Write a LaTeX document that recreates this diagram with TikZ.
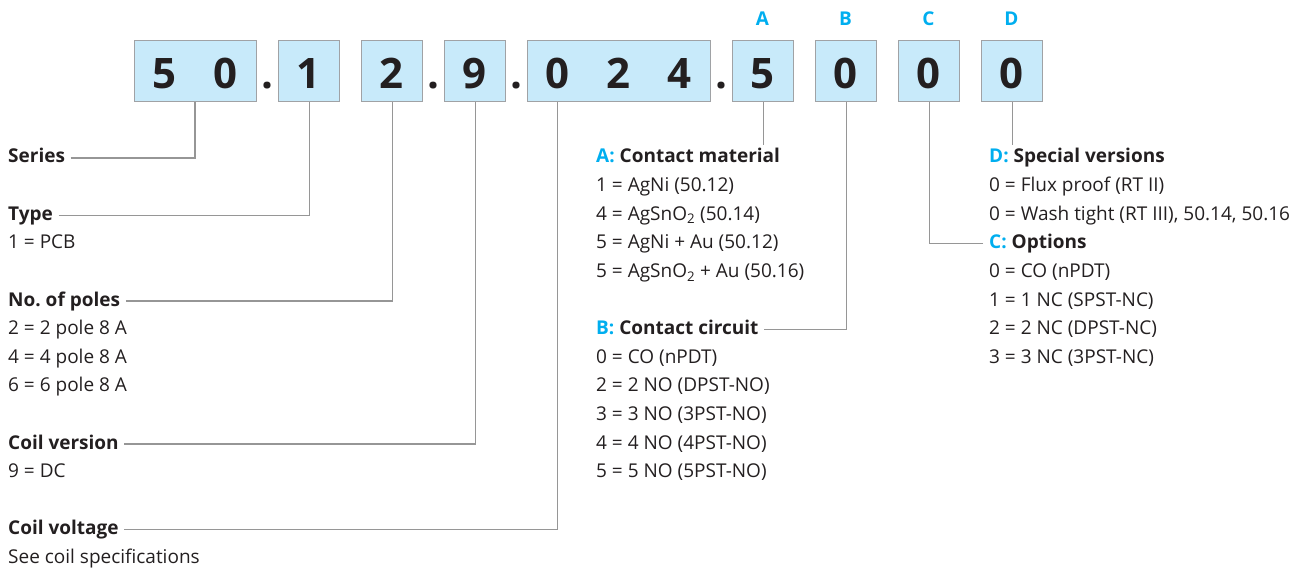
\documentclass[tikz,border=0pt]{standalone}
\usepackage{fontspec}
\setmainfont{Open Sans}
\usetikzlibrary{calc}
\definecolor{cellfill}{RGB}{200,234,250}
\definecolor{cellline}{RGB}{160,162,165}
\definecolor{leadline}{RGB}{150,150,150}
\definecolor{ink}{RGB}{35,31,32}
\definecolor{cyanlbl}{RGB}{0,174,239}
\newcommand\bodysize{\fontsize{19}{24}\selectfont}
\begin{document}
\frenchspacing
\begin{tikzpicture}[x=1pt,y=-1pt,
  cellbox/.style={draw=cellline, line width=1.3pt, fill=cellfill, minimum height=61pt, inner sep=0, anchor=north west},
  digit/.style={font=\fontsize{42}{42}\selectfont\bfseries, text=ink, anchor=base, inner sep=0},
  codelbl/.style={font=\bodysize\bfseries, text=cyanlbl, anchor=base, inner sep=0},
  heading/.style={font=\bodysize\bfseries, text=ink, anchor=base west, inner sep=0, text height=14pt, text depth=4pt},
  item/.style={font=\bodysize, text=ink, anchor=base west, inner sep=0, text height=14pt, text depth=4pt},
  lead/.style={draw=leadline, line width=1.1pt}
]
\useasboundingbox (0,0) rectangle (1302,572);
% boxes
\node[cellbox, minimum width=122pt] (b50) at (134,40) {};
\node[cellbox, minimum width=61pt] (b1) at (278,40) {};
\node[cellbox, minimum width=61pt] (b2) at (361,40) {};
\node[cellbox, minimum width=61pt] (b9) at (444,40) {};
\node[cellbox, minimum width=183pt] (b024) at (527,40) {};
\node[cellbox, minimum width=61pt] (b5) at (732,40) {};
\node[cellbox, minimum width=61pt] (bB) at (815,40) {};
\node[cellbox, minimum width=61pt] (bC) at (898,40) {};
\node[cellbox, minimum width=61pt] (bD) at (981,40) {};
% digits
\node[digit] (d5) at (164.5,88.5) {5};
\node[digit] (d0) at (225.5,88.5) {0};
\node[digit] (dot1) at (267,88.5) {.};
\node[digit] (d1) at (308.5,88.5) {1};
\node[digit] (d2) at (391.5,88.5) {2};
\node[digit] (dot2) at (433,88.5) {.};
\node[digit] (d9) at (474.5,88.5) {9};
\node[digit] (dot3) at (516,88.5) {.};
\node[digit] (dv0) at (557.5,88.5) {0};
\node[digit] (dv2) at (618.5,88.5) {2};
\node[digit] (dv4) at (679.5,88.5) {4};
\node[digit] (dot4) at (721,88.5) {.};
\node[digit] (dA) at (762.5,88.5) {5};
\node[digit] (dB) at (845.5,88.5) {0};
\node[digit] (dC) at (928.5,88.5) {0};
\node[digit] (dD) at (1011.5,88.5) {0};
% letters
\node[codelbl] (lA) at (762.5,25.5) {A};
\node[codelbl] (lB) at (845.5,25.5) {B};
\node[codelbl] (lC) at (928.5,25.5) {C};
\node[codelbl] (lD) at (1011.5,25.5) {D};
% left column
\node[heading] (series) at (8,163) {Series};
\node[heading] (type) at (8,220.2) {Type};
\node[item] (t1) at (8,248.8) {1 = PCB};
\node[heading] (poles) at (8,306) {No.\ of poles};
\node[item] (p2) at (8,334.6) {2 = 2 pole 8 A};
\node[item] (p4) at (8,363.2) {4 = 4 pole 8 A};
\node[item] (p6) at (8,391.8) {6 = 6 pole 8 A};
\node[heading] (cver) at (8,449) {Coil version};
\node[item] (cv9) at (8,477.6) {9 = DC};
\node[heading] (cvolt) at (8,534.8) {Coil voltage};
\node[item] (cvs) at (8,563.4) {See coil specifications};
% middle column
\node[heading] (hA) at (596,163) {\textcolor{cyanlbl}{A:} Contact material};
\node[item] (a1) at (596,191.6) {1 = AgNi (50.12)};
\node[item] (a2) at (596,220.2) {4 = AgSnO\textsubscript{2} (50.14)};
\node[item] (a3) at (596,248.8) {5 = AgNi + Au (50.12)};
\node[item] (a4) at (596,277.4) {5 = AgSnO\textsubscript{2} + Au (50.16)};
\node[heading] (hB) at (596,334.6) {\textcolor{cyanlbl}{B:} Contact circuit};
\node[item] (bb0) at (596,363.2) {0 = CO (nPDT)};
\node[item] (bb2) at (596,391.8) {2 = 2 NO (DPST-NO)};
\node[item] (bb3) at (596,420.4) {3 = 3 NO (3PST-NO)};
\node[item] (bb4) at (596,449) {4 = 4 NO (4PST-NO)};
\node[item] (bb5) at (596,477.6) {5 = 5 NO (5PST-NO)};
% right column
\node[heading] (hD) at (989,163) {\textcolor{cyanlbl}{D:} Special versions};
\node[item] (dd1) at (989,191.6) {0 = Flux proof (RT II)};
\node[item] (dd2) at (989,220.2) {0 = Wash tight (RT III), 50.14, 50.16};
\node[heading] (hC) at (989,248.8) {\textcolor{cyanlbl}{C:} Options};
\node[item] (cc0) at (989,277.4) {0 = CO (nPDT)};
\node[item] (cc1) at (989,306) {1 = 1 NC (SPST-NC)};
\node[item] (cc2) at (989,334.6) {2 = 2 NC (DPST-NC)};
\node[item] (cc3) at (989,363.2) {3 = 3 NC (3PST-NC)};
% lead lines
\coordinate (s50) at ($(b50.south west)+(61,0)$);
\coordinate (s024) at ($(b024.south west)+(30.5,0)$);
\draw[lead] ([xshift=5.5pt]series.east) -| (s50);
\draw[lead] ([xshift=5.5pt]type.east) -| (b1.south);
\draw[lead] ([xshift=5.5pt]poles.east) -| (b2.south);
\draw[lead] ([xshift=5.5pt]cver.east) -| (b9.south);
\draw[lead] ([xshift=5.5pt]cvolt.east) -| (s024);
\draw[lead] (b5.south) -- ($(b5.south |- hA.north)+(0,-4)$);
\draw[lead] ([xshift=5.5pt]hB.east) -| (bB.south);
\draw[lead] ([xshift=-6pt]hC.west) -| (bC.south);
\draw[lead] (bD.south) -- ($(bD.south |- hD.north)+(0,-4)$);
\end{tikzpicture}
\end{document}
